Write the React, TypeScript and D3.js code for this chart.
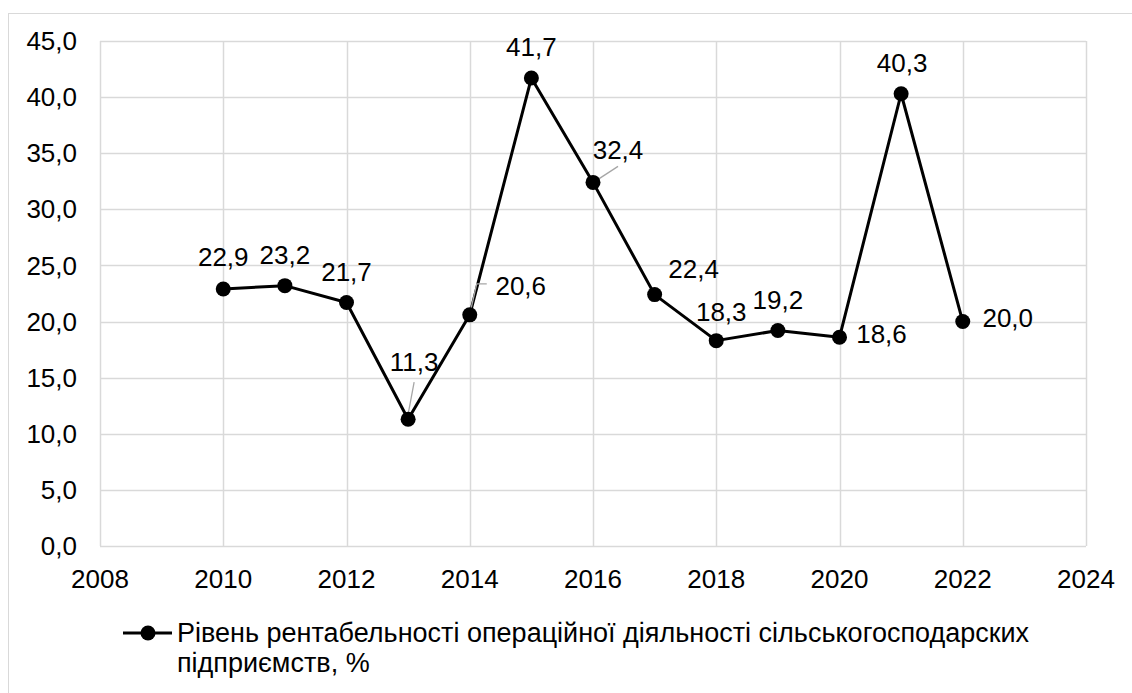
import React, { useEffect, useRef } from 'react';
import * as d3 from 'd3';

const years = [2010, 2011, 2012, 2013, 2014, 2015, 2016, 2017, 2018, 2019, 2020, 2021, 2022];
const values = [22.9, 23.2, 21.7, 11.3, 20.6, 41.7, 32.4, 22.4, 18.3, 19.2, 18.6, 40.3, 20.0];
const xTicks = [2008, 2010, 2012, 2014, 2016, 2018, 2020, 2022, 2024];
const yTicks = [0, 5, 10, 15, 20, 25, 30, 35, 40, 45];
const legendLines = [
  'Рівень рентабельності операційної діяльності сільськогосподарских',
  'підприємств, %',
];

// label offsets from each point (center of text), in px
const labelOffsets: [number, number][] = [
  [0, -32], [0, -31], [0, -31], [6, -57], [51, -29], [0, -31],
  [25, -33], [39, -26], [5, -29], [0, -31], [42, -3], [1, -31], [45, -4],
];
// leader lines: point index -> list of points relative to the data point
const leaders: Record<number, [number, number][]> = {
  3: [[0, -5], [6, -37]],
  4: [[1, -5], [7, -31], [17, -31]],
  6: [[2, -1], [25, -16]],
};

export default function App() {
  const ref = useRef<SVGSVGElement>(null);

  useEffect(() => {
    const width = 1132;
    const height = 693;
    const margin = { top: 41, right: 46, bottom: 147, left: 100 };
    const font = 'Liberation Sans, Arial, sans-serif';
    const fs = 26;

    const svg = d3.select(ref.current).html('');

    svg.append('rect')
      .attr('x', 8.5).attr('y', 13.5)
      .attr('width', width).attr('height', height)
      .attr('fill', 'white').attr('stroke', '#d9d9d9');

    const x = d3.scaleLinear().domain([2008, 2024]).range([margin.left, width - margin.right]);
    const y = d3.scaleLinear().domain([0, 45]).range([height - margin.bottom, margin.top]);

    const grid = svg.append('g');
    grid.selectAll('line.h').data(yTicks).join('line')
      .attr('x1', x(2008)).attr('x2', x(2024))
      .attr('y1', (d) => Math.round(y(d)) + 0.5).attr('y2', (d) => Math.round(y(d)) + 0.5)
      .attr('stroke', '#d9d9d9').attr('stroke-width', 1.5);
    grid.selectAll('line.v').data(xTicks).join('line')
      .attr('y1', y(0)).attr('y2', y(45))
      .attr('x1', (d) => Math.round(x(d)) + 0.5).attr('x2', (d) => Math.round(x(d)) + 0.5)
      .attr('stroke', '#d9d9d9').attr('stroke-width', 1.5);

    const fmt = (v: number) => v.toFixed(1).replace('.', ',');

    svg.append('g').selectAll('text').data(yTicks).join('text')
      .attr('x', 77).attr('y', (d) => y(d))
      .attr('dy', '0.35em').attr('text-anchor', 'end')
      .attr('font-family', font).attr('font-size', fs).attr('fill', '#000')
      .text((d) => fmt(d));

    svg.append('g').selectAll('text').data(xTicks).join('text')
      .attr('x', (d) => x(d)).attr('y', 588)
      .attr('text-anchor', 'middle')
      .attr('font-family', font).attr('font-size', fs).attr('fill', '#000')
      .text((d) => String(d));

    const line = d3.line<number>()
      .x((_, i) => x(years[i]))
      .y((d) => y(d));

    svg.append('path').datum(values)
      .attr('d', line)
      .attr('fill', 'none').attr('stroke', '#000').attr('stroke-width', 3)
      .attr('stroke-linejoin', 'round');

    // leader lines
    Object.entries(leaders).forEach(([k, pts]) => {
      const i = +k;
      const px = x(years[i]);
      const py = y(values[i]);
      svg.append('polyline')
        .attr('points', pts.map(([dx, dy]) => `${px + dx},${py + dy}`).join(' '))
        .attr('fill', 'none').attr('stroke', '#a6a6a6').attr('stroke-width', 1.3);
    });

    svg.append('g').selectAll('circle').data(values).join('circle')
      .attr('cx', (_, i) => x(years[i])).attr('cy', (d) => y(d))
      .attr('r', 7.5).attr('fill', '#000');

    svg.append('g').selectAll('text').data(values).join('text')
      .attr('x', (_, i) => x(years[i]) + labelOffsets[i][0])
      .attr('y', (d, i) => y(d) + labelOffsets[i][1])
      .attr('dy', '0.35em').attr('text-anchor', 'middle')
      .attr('font-family', font).attr('font-size', fs).attr('fill', '#000')
      .text((d) => fmt(d));

    // legend
    const lg = svg.append('g');
    lg.append('line').attr('x1', 123).attr('x2', 172).attr('y1', 633).attr('y2', 633)
      .attr('stroke', '#000').attr('stroke-width', 3);
    lg.append('circle').attr('cx', 148).attr('cy', 633).attr('r', 7.5).attr('fill', '#000');
    lg.selectAll('text').data(legendLines).join('text')
      .attr('x', 177).attr('y', (_, i) => 642 + i * 30)
      .attr('font-family', font).attr('font-size', 27).attr('fill', '#000')
      .text((d) => d);
  }, []);

  return <svg ref={ref} width={1132} height={693} style={{ position: 'absolute', left: 0, top: 0 }} />;
}
